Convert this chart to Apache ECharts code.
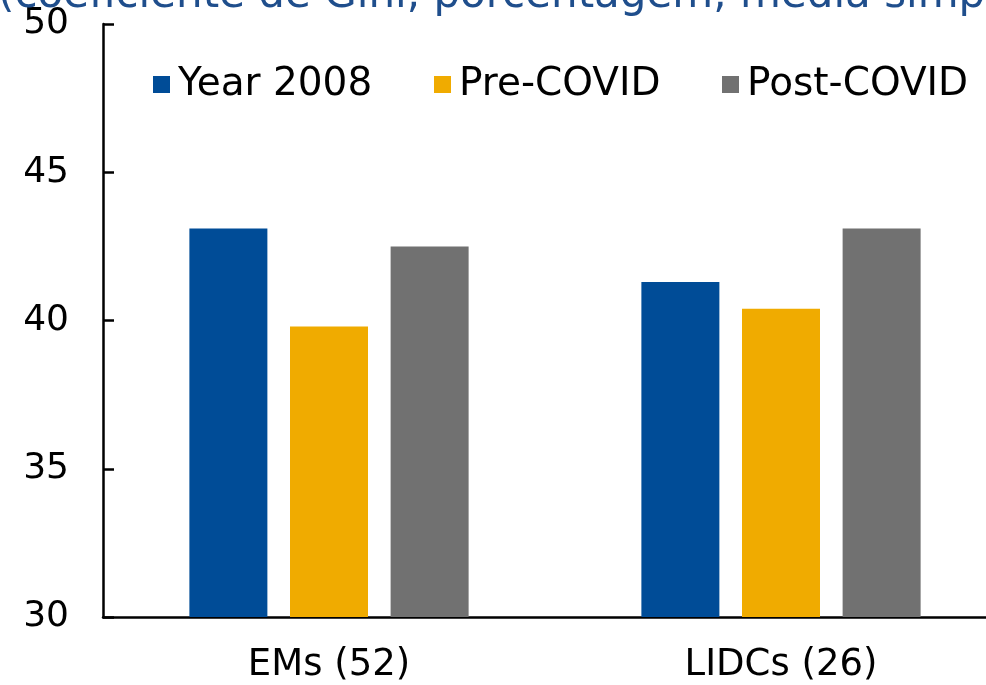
<!DOCTYPE html>
<html>
<head>
<meta charset="utf-8">
<script src="https://cdn.jsdelivr.net/npm/echarts@6/dist/echarts.min.js"></script>
<style>html,body{margin:0;padding:0;background:#fff}#c{width:986px;height:685px}</style>
</head>
<body>
<div id="c"></div>
<script>
const categories = ['EMs (52)', 'LIDCs (26)'];
const seriesNames = ['Year 2008', 'Pre-COVID', 'Post-COVID'];
const year2008 = [43.1, 41.3];
const preCovid = [39.8, 40.4];
const postCovid = [42.5, 43.1];
const yTicks = { min: 30, max: 50, interval: 5 };
const titleText = '(coeficiente de Gini, porcentagem, média simples)';

const colors = ['#004C97', '#F0AB00', '#717171'];
const font = '"DejaVu Sans", sans-serif';
const chart = echarts.init(document.getElementById('c'), null, { renderer: 'canvas' });
const values = [year2008, preCovid, postCovid];
const legendLefts = [153, 434, 722];

chart.setOption({
  animation: false,
  backgroundColor: '#fff',
  title: {
    text: titleText, left: -2, top: -25, padding: 0,
    textStyle: { color: '#1F4E8C', fontFamily: font, fontSize: 42, fontWeight: 'normal' }
  },
  legend: seriesNames.map((n, i) => ({
    data: [n], left: legendLefts[i], top: 65, icon: 'rect', padding: 0,
    itemWidth: 17, itemHeight: 17, itemGap: 0,
    textStyle: { fontFamily: font, fontSize: 39, color: '#000', padding: [0, 0, 0, 3] }
  })),
  grid: { left: 103, top: 24, bottom: 68, width: 904, containLabel: false, outerBoundsMode: 'none' },
  xAxis: {
    type: 'category', data: categories,
    axisLine: { lineStyle: { color: '#000', width: 2.5 } },
    axisTick: { show: false },
    axisLabel: { fontFamily: font, fontSize: 37, color: '#000', margin: 30 }
  },
  yAxis: {
    type: 'value', min: yTicks.min, max: yTicks.max, interval: yTicks.interval,
    axisLine: { show: true, lineStyle: { color: '#000', width: 2.5 } },
    axisTick: { show: true, inside: true, length: 11, lineStyle: { color: '#000', width: 2.5 } },
    splitLine: { show: false },
    axisLabel: { fontFamily: font, fontSize: 36, color: '#000', margin: 34 }
  },
  series: seriesNames.map((n, i) => ({
    name: n, type: 'bar', data: values[i],
    barWidth: 78, barGap: '29%',
    itemStyle: { color: colors[i] }
  }))
});
</script>
</body>
</html>
